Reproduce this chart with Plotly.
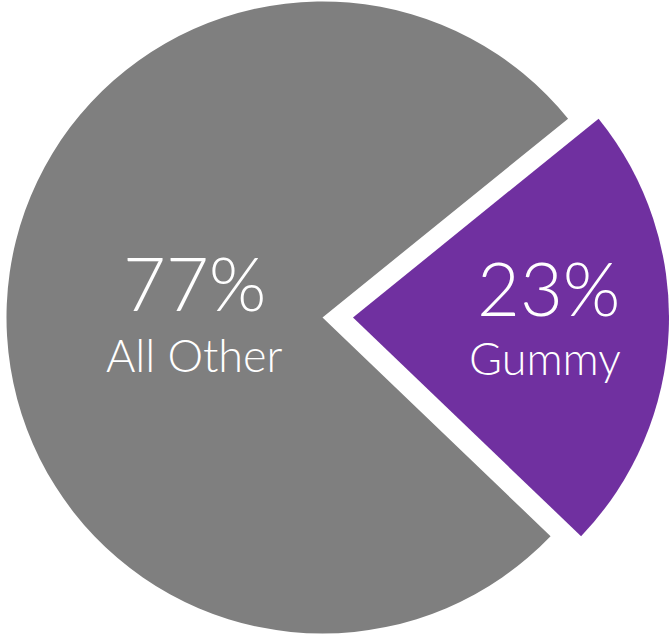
import plotly.graph_objects as go

labels = ["Gummy", "All Other"]
values = [23, 77]
colors = ["#7030A0", "#7F7F7F"]

W, H = 669, 634
R = 316            # pie radius in px
cy = 317.5         # centre y (px from top)
cx_main = 322.5    # centre x of the main pie
cx_pull = 353.0    # centre x of the pulled-out slice

def dom(cx, cy, r):
    return dict(x=[max(0, (cx - r) / W), min(1, (cx + r) / W)],
                y=[max(0, 1 - (cy + r) / H), min(1, 1 - (cy - r) / H)])

fig = go.Figure()
# main pie: only "All Other" visible
fig.add_trace(go.Pie(
    labels=labels, values=values, sort=False, direction="clockwise",
    rotation=51, textinfo="none", hoverinfo="label+percent",
    marker=dict(colors=["rgba(0,0,0,0)", colors[1]], line=dict(width=0)),
    domain=dom(cx_main, cy, R), showlegend=False,
))
# pulled slice: only "Gummy" visible
fig.add_trace(go.Pie(
    labels=labels, values=values, sort=False, direction="clockwise",
    rotation=51, textinfo="none", hoverinfo="label+percent",
    marker=dict(colors=[colors[0], "rgba(0,0,0,0)"], line=dict(width=0)),
    domain=dom(cx_pull, cy, R), showlegend=False,
))

font_family = "Century Gothic, Lato, sans-serif"
text_pos = {"All Other": (195, 282, 194, 355), "Gummy": (549, 287, 545, 358)}
annotations = []
for lab, val in zip(labels, values):
    px, py, lx, ly = text_pos[lab]
    annotations.append(dict(x=px / W, y=1 - py / H, xref="paper", yref="paper",
                            xanchor="center", yanchor="middle",
                            text=f"{val}%", showarrow=False,
                            font=dict(family=font_family, size=74, color="white", weight=300)))
    annotations.append(dict(x=lx / W, y=1 - ly / H, xref="paper", yref="paper",
                            xanchor="center", yanchor="middle",
                            text=lab, showarrow=False,
                            font=dict(family=font_family, size=45, color="white", weight=300)))

fig.update_layout(width=W, height=H, margin=dict(l=0, r=0, t=0, b=0),
                  paper_bgcolor="white", plot_bgcolor="white",
                  annotations=annotations)
fig.write_html("out.html", config={"displayModeBar": False},
               post_script="document.body.style.margin='0';document.body.style.overflow='hidden';")
